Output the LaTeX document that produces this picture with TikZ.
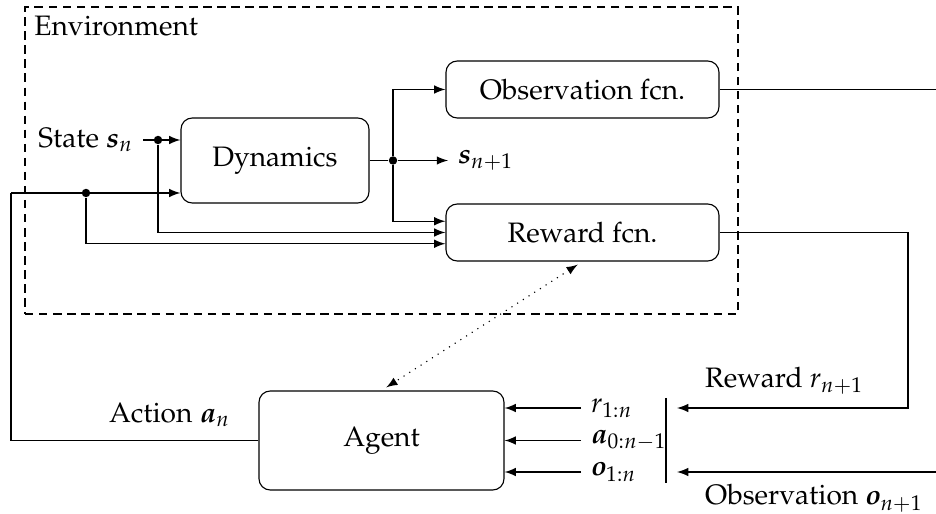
\documentclass[tikz,border=0pt]{standalone}
\usepackage[T1]{fontenc}
\usepackage{mathpazo}
\usepackage{amsmath,amssymb}
\usepackage{tikz}
\usetikzlibrary{arrows,positioning}

\tikzset{
    block/.style={draw, rounded corners=4pt, align=center},
    junction/.style={circle, fill, inner sep=0pt, minimum size=3pt},
}

\begin{document}
\begin{tikzpicture}
    \useasboundingbox (0,0) rectangle (11.7,6.4125);

    \node[draw, dash pattern=on 3pt off 2pt, minimum width=8.9125cm, minimum height=3.8375cm] (env) at (4.76875,4.40625) {};
    \node[anchor=north west] (envlbl) at (env.north west) {Environment};

    \node[block, minimum width=2.35cm, minimum height=1.0625cm] (dynamics) at (3.4375,4.40625) {Dynamics};
    \node[block, minimum width=3.4125cm, minimum height=0.7125cm] (obsfcn) at (7.28125,5.29375) {Observation fcn.};
    \node[block, minimum width=3.4125cm, minimum height=0.7125cm] (rewfcn) at (7.28125,3.50625) {Reward fcn.};
    \node[block, minimum width=3.0625cm, minimum height=1.2375cm] (agent) at (4.76875,0.90625) {Agent};

    \node[anchor=east] (statelbl) at (1.7875,4.6625) {State $\boldsymbol{s}_n$};
    \node[anchor=west] (snext) at (5.6,4.40625) {$\boldsymbol{s}_{n+1}$};
    \node[anchor=south east] (actlbl) at (3.0,0.95) {Action $\boldsymbol{a}_n$};
    \node[anchor=south west] (rewlbl) at (8.69,1.36) {Reward $r_{n+1}$};
    \node[anchor=north west] (obslbl) at (8.69,0.48) {Observation $\boldsymbol{o}_{n+1}$};

    \node[anchor=west] (rhist) at (7.2625,1.3125) {$r_{1:n}$};
    \node[anchor=west] (ahist) at (7.2625,0.90625) {$\boldsymbol{a}_{0:n-1}$};
    \node[anchor=west] (ohist) at (7.2625,0.5125) {$\boldsymbol{o}_{1:n}$};

    \node[junction] (sdot) at (1.975,4.6625) {};
    \node[junction] (adot) at (1.075,4.0) {};
    \node[junction] (ddot) at (4.9125,4.40625) {};

    \coordinate (actcorner) at (0.1375,4.0);
    \coordinate (obsout) at (11.7,5.29375);
    \coordinate (rewcorner) at (11.35,1.3125);
    \coordinate (rewtip) at (8.4625,1.3125);
    \coordinate (obsin) at (11.7,0.5125);
    \coordinate (obstip) at (8.4625,0.5125);
    \coordinate (bartop) at (8.325,1.4375);
    \coordinate (barbot) at (8.325,0.375);

    % state and action into the environment
    \draw[-latex] (statelbl.east) -- (dynamics.west |- statelbl.east);
    \draw (agent.west) -| (actcorner);
    \draw[-latex] (actcorner) -- (dynamics.west |- actcorner);
    \draw[-latex] (sdot) |- (rewfcn.west);
    \draw[-latex] (adot) |- ([yshift=-4pt]rewfcn.west);

    % dynamics output
    \draw (dynamics.east) -- (ddot);
    \draw[-latex] (ddot) -- (snext.west);
    \draw[-latex] (ddot) |- (obsfcn.west);
    \draw[-latex] (ddot) |- ([yshift=4pt]rewfcn.west);

    % back to the agent
    \draw (obsfcn.east) -- (obsout);
    \draw[-latex] (rewfcn.east) -| (rewcorner) -- (rewtip);
    \draw[-latex] (obsin) -- (obstip);
    \draw (bartop) -- (barbot);

    \draw[-latex] (rhist.west) -- (agent.east |- rhist.west);
    \draw[-latex] (ahist.west) -- (agent.east |- ahist.west);
    \draw[-latex] (ohist.west) -- (agent.east |- ohist.west);

    \draw[latex-latex, dotted, shorten <=2pt, shorten >=2pt] (rewfcn.south) -- (agent.north);
\end{tikzpicture}
\end{document}
